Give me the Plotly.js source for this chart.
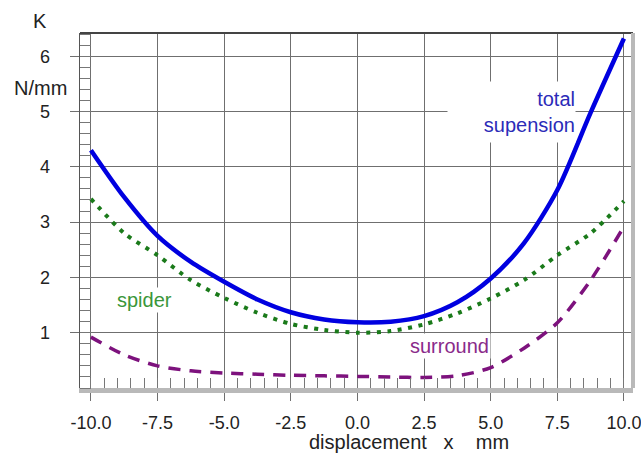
<!DOCTYPE html>
<html>
<head>
<meta charset="utf-8">
<script src="https://cdn.plot.ly/plotly-3.0.1.min.js"></script>
<style>html,body{margin:0;padding:0;background:#fff;}#chart{width:641px;height:456px;}</style>
</head>
<body>
<div id="chart"></div>
<script>
// displacement x (mm)
const displacement = [-10, -8.75, -7.5, -6.25, -5, -3.75, -2.5, -1.25, 0, 1.25, 2.5, 3.75, 5, 6.25, 7.5, 8.75, 10];
// stiffness K (N/mm)
const totalSuspension = [4.30, 3.45, 2.75, 2.28, 1.92, 1.60, 1.37, 1.24, 1.19, 1.20, 1.30, 1.55, 1.98, 2.62, 3.58, 4.98, 6.32];
const spider = [3.42, 2.80, 2.40, 1.95, 1.63, 1.36, 1.16, 1.05, 1.00, 1.03, 1.15, 1.35, 1.62, 1.95, 2.40, 2.80, 3.38];
const surround = [0.92, 0.60, 0.40, 0.31, 0.27, 0.25, 0.23, 0.22, 0.21, 0.20, 0.19, 0.22, 0.37, 0.72, 1.18, 1.95, 2.92];

const xTickVals = [-10, -7.5, -5, -2.5, 0, 2.5, 5, 7.5, 10];
const xTickText = ['-10.0', '-7.5', '-5.0', '-2.5', '0.0', '2.5', '5.0', '7.5', '10.0'];
const yTickVals = [1, 2, 3, 4, 5, 6];
const yTickText = ['1', '2', '3', '4', '5', '6'];

const FONT = '"Liberation Sans", Arial, sans-serif';
const GRID = '#6f6f6f';

const traces = [
  {x: displacement, y: surround, mode: 'lines', name: 'surround',
   line: {color: '#7d127d', width: 3.5, dash: '12px,9px', shape: 'spline', smoothing: 0.8}},
  {x: displacement, y: spider, mode: 'lines', name: 'spider',
   line: {color: '#1a7a1a', width: 4, dash: '4px,6.5px', shape: 'spline', smoothing: 0.8}},
  {x: displacement, y: totalSuspension, mode: 'lines', name: 'total supension',
   line: {color: '#0000e0', width: 4.5, shape: 'spline', smoothing: 0.8}}
];

const layout = {
  width: 641, height: 456,
  margin: {l: 80, r: 8, t: 33, b: 68},
  paper_bgcolor: '#ffffff', plot_bgcolor: '#ffffff',
  showlegend: false,
  font: {family: FONT, size: 18, color: '#222'},
  xaxis: {
    range: [-10.41, 10.34], tickmode: 'array', tickvals: xTickVals, ticktext: xTickText,
    showgrid: true, gridcolor: GRID, gridwidth: 1, zeroline: false,
    showline: true, linecolor: '#b9b9b9', linewidth: 5,
    ticks: 'outside', ticklen: 8, tickcolor: GRID, tickwidth: 1,
    ticklabelstandoff: 6, ticklabeloverflow: 'allow',
    minor: {dtick: 0.5, tick0: 0, ticks: 'inside', ticklen: 10, tickcolor: '#777', tickwidth: 1, showgrid: false},
    tickfont: {size: 18, color: '#222', family: FONT}
  },
  yaxis: {
    range: [0, 6.42], tickmode: 'array', tickvals: yTickVals, ticktext: yTickText,
    showgrid: true, gridcolor: GRID, gridwidth: 1, zeroline: false,
    showline: true, linecolor: '#555', linewidth: 1.5,
    ticks: 'outside', ticklen: 9, tickcolor: GRID, tickwidth: 1,
    ticklabelstandoff: 16,
    minor: {dtick: 0.2, tick0: 0, ticks: 'inside', ticklen: 11, tickcolor: '#777', tickwidth: 1, showgrid: false},
    tickfont: {size: 18, color: '#222', family: FONT}
  },
  shapes: [
    {type: 'line', xref: 'paper', yref: 'paper', x0: 0, x1: 1, y0: 1, y1: 1, line: {color: '#444', width: 2}},
    {type: 'line', xref: 'paper', yref: 'paper', x0: 1, x1: 1, y0: 0, y1: 1, line: {color: '#b9b9b9', width: 4}}
  ],
  annotations: [
    {text: 'K', xref: 'paper', yref: 'paper', x: -0.0723, y: 1.0338, showarrow: false,
     xanchor: 'center', yanchor: 'middle', font: {size: 20, color: '#222', family: FONT}},
    {text: 'N/mm', xref: 'paper', yref: 'paper', x: -0.0723, y: 0.845, showarrow: false,
     xanchor: 'center', yanchor: 'middle', font: {size: 20, color: '#222', family: FONT}},
    {text: 'displacement\u00a0\u00a0\u00a0x\u00a0\u00a0\u00a0\u00a0mm', xref: 'paper', yref: 'paper', x: 0.595, y: -0.153,
     showarrow: false, xanchor: 'center', yanchor: 'middle', font: {size: 20, color: '#222', family: FONT}},
    {text: 'total<br>supension', xref: 'x', yref: 'y', x: 8.2, y: 4.99, showarrow: false,
     xanchor: 'right', yanchor: 'middle', align: 'right', width: 127, height: 60, bgcolor: '#ffffff', borderpad: 0,
     font: {size: 20, color: '#2b2bb8', family: FONT}},
    {text: 'spider', xref: 'x', yref: 'y', x: -8.0, y: 1.59, showarrow: false,
     xanchor: 'center', yanchor: 'middle', bgcolor: '#ffffff', borderpad: 1,
     font: {size: 20, color: '#3a963a', family: FONT}},
    {text: 'surround', xref: 'x', yref: 'y', x: 3.45, y: 0.76, showarrow: false,
     xanchor: 'center', yanchor: 'middle', bgcolor: '#ffffff', borderpad: 1,
     font: {size: 20, color: '#8a2a8a', family: FONT}}
  ]
};

Plotly.newPlot('chart', traces, layout, {displayModeBar: false, staticPlot: true});
</script>
</body>
</html>
